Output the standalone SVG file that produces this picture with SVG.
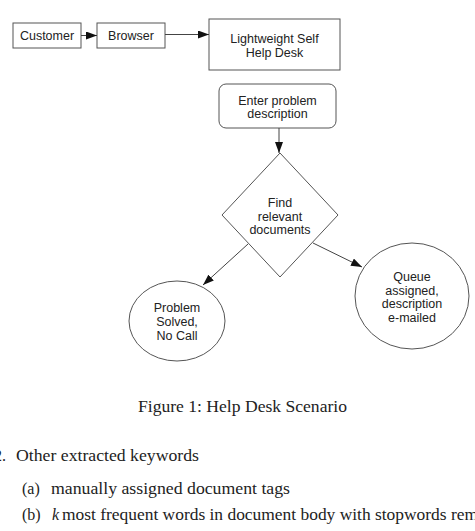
<svg xmlns="http://www.w3.org/2000/svg" width="475" height="531" viewBox="0 0 475 531">
<style>
.box{fill:#fff;stroke:#555;stroke-width:1}
.lbl{font-family:"Liberation Sans",Arial,sans-serif;font-size:12.5px;fill:#222;text-anchor:middle}
.edge{fill:none;stroke:#444;stroke-width:1}
.tx{font-family:"Liberation Serif","Times New Roman",serif;font-size:16px;fill:#222}
</style>
<defs>
<marker id="ah" viewBox="0 0 11 8" refX="11" refY="4" markerWidth="11" markerHeight="8" markerUnits="userSpaceOnUse" orient="auto">
<path d="M0,0 L11,4 L0,8 Z" fill="#111"/>
</marker>
</defs>
<rect width="475" height="531" fill="#fff"/>
<g id="customer"><rect class="box" x="13" y="23" width="68" height="25"/><text class="lbl" x="47" y="40">Customer</text></g>
<g id="browser"><rect class="box" x="97" y="23" width="68" height="25"/><text class="lbl" x="131" y="40">Browser</text></g>
<g id="helpdesk"><rect class="box" x="209" y="19" width="131" height="51"/><text class="lbl" x="274.5" y="43">Lightweight Self</text><text class="lbl" x="274.5" y="57">Help Desk</text></g>
<g id="enter"><rect class="box" x="219" y="84" width="117" height="44" rx="7"/><text class="lbl" x="277.5" y="105">Enter problem</text><text class="lbl" x="277.5" y="118">description</text></g>
<g id="find"><polygon class="box" points="280,153 338,215 280,277 222,215"/><text class="lbl" x="280" y="207">Find</text><text class="lbl" x="280" y="221">relevant</text><text class="lbl" x="280" y="234">documents</text></g>
<g id="solved"><ellipse class="box" cx="177" cy="321" rx="48" ry="40"/><text class="lbl" x="177" y="312">Problem</text><text class="lbl" x="177" y="326">Solved,</text><text class="lbl" x="177" y="340">No Call</text></g>
<g id="queue"><ellipse class="box" cx="412" cy="296" rx="57" ry="53"/><text class="lbl" x="412" y="281">Queue</text><text class="lbl" x="412" y="295">assigned,</text><text class="lbl" x="412" y="308">description</text><text class="lbl" x="412" y="322">e-mailed</text></g>
<g id="connectors">
<line class="edge" x1="81" y1="35.5" x2="97" y2="35.5" marker-end="url(#ah)"/>
<line class="edge" x1="165" y1="34.5" x2="209" y2="34.5" marker-end="url(#ah)"/>
<line class="edge" x1="279" y1="128" x2="279" y2="153" marker-end="url(#ah)"/>
<line class="edge" x1="248" y1="244" x2="203" y2="285" marker-end="url(#ah)"/>
<line class="edge" x1="313" y1="243" x2="362" y2="267" marker-end="url(#ah)"/>
</g>
<text class="tx" x="138" y="412" textLength="209" lengthAdjust="spacingAndGlyphs">Figure 1: Help Desk Scenario</text>
<text class="tx" x="-6" y="461">2.</text>
<text class="tx" x="16" y="461" textLength="183" lengthAdjust="spacingAndGlyphs">Other extracted keywords</text>
<text class="tx" x="22" y="494">(a)</text>
<text class="tx" x="51" y="494" textLength="239" lengthAdjust="spacingAndGlyphs">manually assigned document tags</text>
<text class="tx" x="22" y="520">(b)</text>
<text class="tx" x="52" y="520" font-style="italic">k</text>
<text class="tx" x="62" y="520" textLength="416" lengthAdjust="spacingAndGlyphs">most frequent words in document body with stopwords rem</text>
</svg>
